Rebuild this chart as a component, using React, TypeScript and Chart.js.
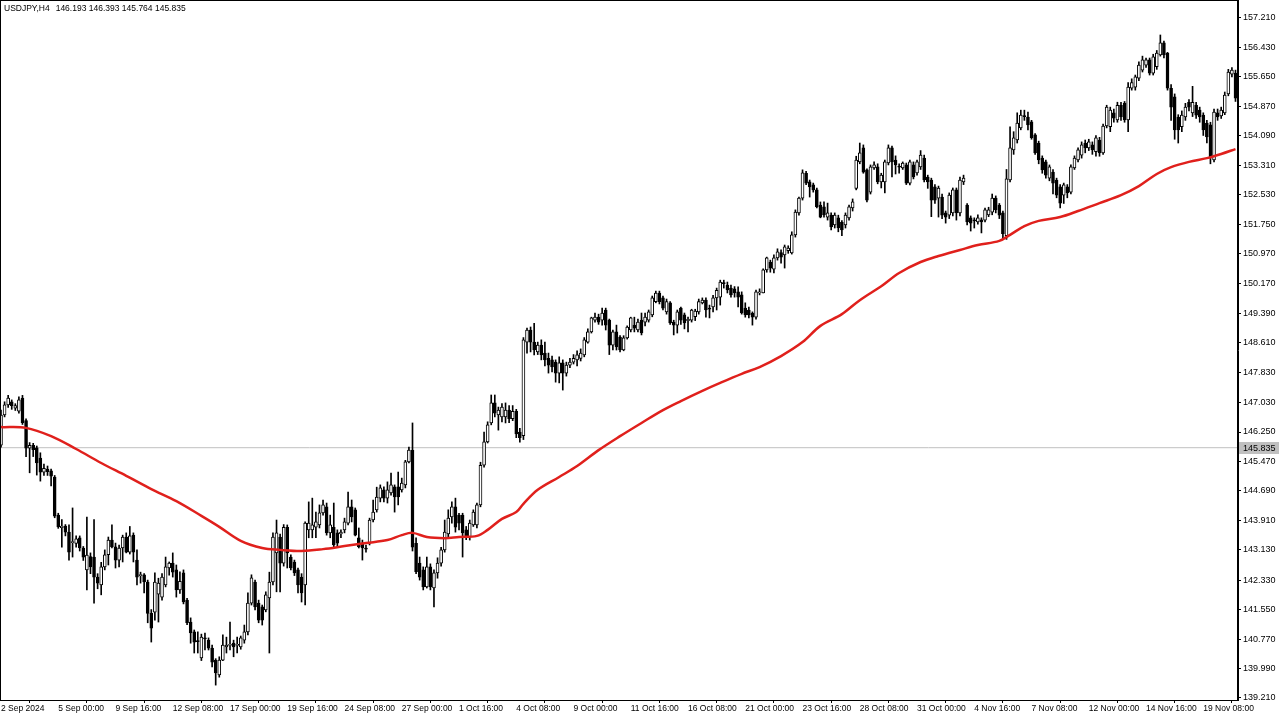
import { useEffect, useRef } from "react";
import { Chart, registerables } from "chart.js";

Chart.register(...registerables);

const symbolTitle = "USDJPY,H4";
const lastQuote = ["146.193", "146.393", "145.764", "145.835"];
const currentPrice = 145.835;

// [open, high, low, close] per H4 bar, starting 2 Sep 2024 08:00
const candles: [number, number, number, number][] = [
  [145.90,146.83,145.85,146.70],[146.70,147.05,146.65,146.97],[146.97,147.22,146.90,147.15],[147.05,147.10,146.85,146.95],
  [146.88,147.00,146.82,146.95],[146.80,147.18,146.75,147.10],[147.15,147.22,146.45,146.50],[146.55,146.60,145.60,145.82],
  [145.82,145.97,145.17,145.90],[145.90,145.95,145.60,145.78],[145.83,145.88,145.11,145.43],[145.56,145.70,144.95,145.19],
  [145.19,145.40,145.10,145.29],[145.27,145.35,145.10,145.20],[145.22,145.27,144.82,145.08],[145.06,145.10,143.98,144.02],
  [144.05,144.10,143.70,143.74],[143.72,143.93,143.20,143.76],[143.76,143.80,143.50,143.60],[143.60,143.79,142.86,143.07],
  [143.32,144.24,142.94,143.35],[143.30,143.50,143.20,143.42],[143.45,143.50,143.10,143.18],[143.18,143.22,142.85,142.94],
  [142.60,144.00,142.07,142.99],[142.95,143.05,142.50,142.68],[142.94,143.93,141.72,142.41],[142.41,142.50,142.10,142.25],
  [142.20,142.80,141.94,142.68],[142.68,143.13,142.60,143.00],[143.00,143.47,142.73,143.39],[143.39,143.79,143.18,143.21],
  [143.21,143.31,142.65,142.86],[142.86,143.26,142.68,143.18],[143.18,143.52,142.81,143.47],[143.47,143.58,143.05,143.07],
  [143.07,143.75,143.02,143.50],[143.52,143.58,142.81,143.07],[142.86,143.13,142.20,142.41],[142.45,142.54,142.25,142.47],
  [142.47,142.50,141.99,142.28],[142.28,142.33,141.20,141.45],[141.45,141.55,140.69,141.06],[141.48,142.52,141.27,142.28],
  [141.96,142.38,141.22,142.25],[141.88,142.50,141.80,142.41],[142.20,142.94,142.15,142.68],[142.65,142.81,142.46,142.78],
  [142.78,143.05,142.41,142.54],[142.60,142.73,141.88,142.07],[142.07,142.55,141.98,142.30],[142.52,142.60,141.70,141.75],
  [141.80,141.85,141.15,141.20],[141.22,141.33,140.66,140.93],[140.96,141.01,140.40,140.69],[140.72,140.96,140.40,140.70],
  [140.27,140.90,140.20,140.82],[140.80,140.93,140.48,140.77],[140.74,140.80,140.48,140.53],[140.53,140.61,140.03,140.16],
  [140.21,140.25,139.55,139.87],[139.82,140.30,139.76,140.21],[140.21,140.88,140.20,140.61],[140.56,140.82,140.40,140.61],
  [140.60,141.22,140.48,140.62],[140.66,140.74,140.30,140.56],[140.60,140.82,140.40,140.62],[140.56,140.85,140.50,140.80],
  [140.74,141.14,140.66,140.96],[140.96,141.99,140.88,141.72],[141.72,142.47,141.67,142.39],[142.28,142.33,141.54,141.62],
  [141.72,141.80,141.20,141.27],[141.62,141.67,141.14,141.27],[141.54,142.02,141.49,141.94],[141.86,142.54,140.40,142.28],
  [142.28,143.58,142.20,143.47],[143.05,143.92,142.02,143.58],[143.47,143.55,142.02,142.78],[142.78,143.80,142.70,143.73],
  [143.73,143.79,142.65,143.05],[142.94,143.00,142.60,142.65],[142.81,142.86,142.45,142.52],[142.60,142.65,141.99,142.20],
  [142.41,142.50,141.75,141.99],[142.20,143.87,141.67,143.84],[143.66,144.40,143.45,143.84],[143.66,144.50,143.45,143.79],
  [143.73,144.13,143.45,143.87],[143.79,144.32,143.71,144.11],[144.11,144.45,144.05,144.32],[144.27,144.37,143.52,143.58],
  [143.58,144.05,143.45,143.79],[143.73,144.37,143.21,143.26],[143.58,143.66,143.21,143.31],[143.55,143.66,143.45,143.60],
  [143.66,143.97,143.58,143.87],[143.84,144.66,143.79,144.27],[144.27,144.45,143.87,144.00],[144.19,144.24,143.50,143.52],
  [143.45,143.71,143.18,143.21],[143.31,143.39,142.86,143.18],[143.18,143.26,143.07,143.15],[143.31,143.97,143.26,143.92],
  [143.92,144.45,143.87,144.13],[144.19,144.79,144.13,144.53],[144.50,144.85,144.40,144.77],[144.72,144.80,144.40,144.50],
  [144.50,144.93,144.37,144.72],[144.64,145.16,144.58,144.85],[144.80,144.85,144.13,144.53],[144.80,145.19,144.32,144.53],
  [144.72,145.03,144.66,144.90],[144.85,145.50,144.77,145.46],[145.46,145.85,145.43,145.77],[145.77,146.49,143.10,143.20],
  [143.30,143.45,142.50,142.55],[142.78,142.94,142.33,142.41],[142.60,142.68,142.07,142.15],[142.15,142.94,142.12,142.68],
  [142.68,142.76,142.07,142.15],[142.12,142.60,141.62,142.52],[142.52,142.92,142.38,142.78],[142.78,143.20,142.70,143.13],
  [143.13,143.92,143.07,143.60],[143.55,144.19,143.47,143.97],[144.00,144.40,143.84,144.27],[144.27,144.50,143.60,143.73],
  [144.05,144.10,143.66,143.84],[144.05,144.10,142.94,143.58],[143.66,143.75,143.40,143.47],[143.47,143.92,143.39,143.84],
  [143.79,144.19,143.75,144.13],[143.79,144.37,143.71,144.32],[144.32,145.45,144.27,145.37],[145.37,146.25,145.32,145.99],
  [145.99,146.52,145.96,146.44],[146.49,147.23,146.44,147.02],[147.02,147.23,146.65,146.75],[146.70,146.91,146.30,146.83],
  [146.65,147.00,146.52,146.91],[146.65,147.02,146.49,146.83],[146.83,146.95,146.50,146.60],[146.60,146.95,146.55,146.80],
  [146.80,146.85,146.10,146.20],[146.25,146.35,145.98,146.10],[146.15,148.75,146.05,148.69],[148.63,149.00,148.34,148.95],
  [148.95,149.03,148.37,148.63],[148.63,149.13,148.29,148.42],[148.37,148.63,148.30,148.55],[148.55,148.69,148.16,148.29],
  [148.34,148.63,148.00,148.16],[148.20,148.34,147.81,148.02],[148.16,148.26,147.84,147.97],[148.10,148.16,147.57,147.81],
  [147.81,148.24,147.55,148.08],[148.08,148.16,147.36,147.81],[147.81,148.10,147.73,148.02],[148.02,148.20,147.95,148.10],
  [148.10,148.30,148.05,148.20],[148.16,148.40,148.00,148.29],[148.20,148.45,148.13,148.34],[148.29,148.75,148.24,148.69],
  [148.63,148.98,148.60,148.90],[148.90,149.29,148.87,149.27],[149.21,149.40,149.16,149.29],[149.29,149.37,149.10,149.16],
  [149.21,149.53,149.08,149.40],[149.48,149.53,148.95,149.08],[149.21,149.24,148.30,148.55],[148.55,148.95,148.42,148.90],
  [148.90,149.08,148.42,148.50],[148.76,148.80,148.37,148.42],[148.42,148.80,148.40,148.74],[148.74,149.06,148.71,149.03],
  [148.95,149.29,148.90,149.27],[149.08,149.29,148.90,149.00],[148.95,149.24,148.90,149.16],[149.21,149.40,148.82,148.87],
  [149.16,149.40,149.06,149.29],[149.21,149.48,149.16,149.43],[149.35,149.85,149.30,149.80],[149.70,149.98,149.67,149.93],
  [149.93,149.98,149.64,149.70],[149.80,149.85,149.48,149.53],[149.43,149.77,149.37,149.70],[149.67,149.70,149.10,149.14],
  [149.16,149.21,148.82,149.08],[149.08,149.48,148.87,149.43],[149.53,149.56,149.10,149.21],[149.35,149.40,148.98,149.14],
  [149.20,149.29,148.90,149.23],[149.21,149.50,149.16,149.48],[149.30,149.50,149.20,149.45],[149.43,149.77,149.37,149.70],
  [149.67,149.80,149.64,149.74],[149.74,149.80,149.29,149.48],[149.53,149.61,149.27,149.50],[149.56,149.87,149.43,149.80],
  [149.80,150.06,149.48,150.00],[149.82,150.27,149.61,150.22],[150.20,150.27,150.06,150.18],[150.14,150.22,149.93,150.01],
  [150.06,150.14,149.82,149.88],[150.04,150.10,149.82,149.93],[149.96,150.09,149.56,149.82],[149.88,149.96,149.37,149.40],
  [149.53,149.67,149.29,149.35],[149.48,149.56,149.27,149.35],[149.40,149.43,149.08,149.29],[149.29,150.01,149.24,149.96],
  [149.93,150.04,149.88,149.96],[149.93,150.57,149.93,150.54],[150.54,150.88,150.48,150.86],[150.75,150.80,150.48,150.59],
  [150.56,150.94,150.46,150.86],[150.86,151.10,150.80,151.02],[151.00,151.07,150.72,150.88],[150.94,151.20,150.59,151.15],
  [151.05,151.18,150.98,151.12],[150.99,151.55,150.96,151.47],[151.47,152.13,151.41,152.07],[152.05,152.47,151.99,152.44],
  [152.44,153.19,152.39,153.11],[153.10,153.15,152.80,152.84],[152.87,152.92,152.47,152.74],[152.79,152.84,152.60,152.66],
  [152.66,152.71,152.18,152.21],[152.26,152.34,151.92,151.94],[152.21,152.34,151.94,152.00],[151.94,152.31,151.86,152.05],
  [151.99,152.05,151.60,151.68],[151.73,152.05,151.65,151.99],[151.92,151.99,151.55,151.65],[151.80,151.85,151.45,151.60],
  [151.73,152.05,151.65,151.99],[151.92,152.26,151.86,152.21],[152.18,152.42,152.10,152.34],[152.70,153.55,152.66,153.45],
  [153.40,153.90,153.35,153.64],[153.77,153.85,153.10,153.13],[153.19,153.22,152.34,152.39],[152.60,153.32,152.55,153.27],
  [153.24,153.40,153.20,153.32],[153.27,153.35,152.82,152.87],[152.87,153.10,152.71,153.05],[152.87,153.45,152.58,153.40],
  [153.37,153.85,153.32,153.77],[153.77,153.82,153.00,153.40],[153.45,153.56,153.08,153.32],[153.28,153.35,153.10,153.26],
  [153.24,153.40,153.20,153.37],[153.32,153.37,152.80,152.84],[152.84,153.45,152.79,153.40],[153.32,153.40,152.95,153.00],
  [153.11,153.45,153.05,153.40],[153.27,153.70,153.20,153.58],[153.50,153.58,152.87,152.92],[153.00,153.05,152.70,152.87],
  [152.92,152.97,151.95,152.39],[152.74,152.80,152.30,152.39],[152.44,152.76,151.94,152.71],[152.47,152.55,151.90,151.99],
  [152.05,152.10,151.78,151.94],[151.99,152.58,151.90,152.52],[152.05,152.71,151.97,152.66],[152.66,152.71,151.86,152.05],
  [152.05,153.00,151.97,152.92],[152.87,153.05,152.80,152.97],[152.26,152.30,151.73,151.81],[151.92,151.97,151.57,151.78],
  [151.86,151.92,151.65,151.84],[151.81,152.00,151.75,151.92],[151.87,151.92,151.52,151.81],[151.86,152.18,151.81,152.13],
  [152.00,152.20,151.95,152.13],[152.07,152.55,152.00,152.44],[152.44,152.50,152.05,152.13],[152.26,152.30,151.90,151.99],
  [152.05,152.10,151.36,151.50],[151.45,153.20,151.35,152.95],[152.92,154.33,152.87,153.77],[153.72,154.20,153.60,154.04],
  [153.98,154.70,153.90,154.43],[154.30,154.77,154.25,154.64],[154.62,154.77,154.50,154.60],[154.59,154.72,154.25,154.38],
  [154.46,154.50,154.00,154.04],[154.12,154.15,153.60,153.64],[153.90,153.95,153.35,153.45],[153.50,153.56,153.10,153.19],
  [153.40,153.45,152.97,153.05],[152.97,153.32,152.90,153.27],[153.13,153.20,152.55,152.84],[152.92,152.97,152.45,152.52],
  [152.74,152.80,152.18,152.31],[152.52,152.84,152.30,152.79],[152.74,152.80,152.45,152.58],[152.60,153.32,152.55,153.27],
  [153.24,153.56,153.20,153.50],[153.45,153.77,153.40,153.72],[153.58,153.93,153.50,153.85],[153.90,153.98,153.64,153.77],
  [153.77,154.00,153.70,153.93],[153.85,153.93,153.60,153.72],[153.67,154.10,153.55,154.04],[153.98,154.05,153.55,153.64],
  [153.64,154.40,153.60,154.35],[154.35,154.90,154.30,154.85],[154.33,154.85,154.20,154.77],[154.70,154.80,154.45,154.56],
  [154.51,154.98,154.45,154.90],[154.90,154.98,154.50,154.59],[154.96,155.00,154.45,154.51],[154.51,155.50,154.20,155.38],
  [155.35,155.60,155.30,155.50],[155.38,155.70,155.30,155.65],[155.62,156.05,155.55,155.96],[155.83,156.20,155.78,156.10],
  [155.96,156.15,155.90,156.10],[156.10,156.15,155.70,155.75],[155.75,156.25,155.70,156.18],[155.92,156.35,155.85,156.28],
  [156.23,156.76,156.20,156.55],[156.55,156.60,156.15,156.23],[156.28,156.30,155.30,155.35],[155.35,155.45,154.50,154.85],
  [155.12,155.20,154.00,154.25],[154.59,154.65,153.90,154.25],[154.33,154.75,154.20,154.64],[154.59,154.95,154.50,154.85],
  [154.98,155.05,154.75,154.85],[154.70,155.40,154.60,154.98],[154.90,154.98,154.55,154.64],[154.77,154.85,154.45,154.59],
  [154.64,154.70,154.10,154.25],[154.43,154.50,153.90,154.06],[154.38,154.45,153.35,153.53],[153.45,154.80,153.40,154.72],
  [154.70,154.80,154.50,154.59],[154.62,154.85,154.55,154.77],[154.70,155.25,154.65,155.17],[155.20,155.85,155.15,155.78],
  [155.72,155.90,155.65,155.83],[155.75,155.83,155.00,155.09],
];

// moving average (red line), read at selected bars
const maBars = [0,7,14,21,28,35,42,49,56,61,67,73,78,84,90,96,102,108,112,115,119,124,128,133,136,140,144,146,150,156,161,167,173,179,185,190,196,201,207,212,218,224,229,235,240,246,251,257,262,268,273,279,282,286,290,296,301,307,313,318,323,327,332,337,341,345];
const maValues = [146.38,146.36,146.14,145.80,145.43,145.09,144.74,144.42,144.03,143.74,143.37,143.18,143.13,143.10,143.15,143.23,143.31,143.39,143.52,143.58,143.47,143.44,143.47,143.50,143.66,143.95,144.13,144.35,144.72,145.06,145.35,145.77,146.14,146.49,146.83,147.07,147.34,147.55,147.79,147.97,148.26,148.63,149.06,149.37,149.74,150.11,150.46,150.75,150.91,151.07,151.20,151.31,151.47,151.70,151.84,151.94,152.10,152.31,152.52,152.76,153.08,153.26,153.40,153.50,153.61,153.74];

const xTickBars = [0,16,32,48,64,80,96,112,128,144,160,176,192,208,224,240,256,272,288,304,320,336];
const xTickLabels = ["2 Sep 2024","5 Sep 00:00","9 Sep 16:00","12 Sep 08:00","17 Sep 00:00","19 Sep 16:00","24 Sep 08:00","27 Sep 00:00","1 Oct 16:00","4 Oct 08:00","9 Oct 00:00","11 Oct 16:00","16 Oct 08:00","21 Oct 00:00","23 Oct 16:00","28 Oct 08:00","31 Oct 00:00","4 Nov 16:00","7 Nov 08:00","12 Nov 00:00","14 Nov 16:00","19 Nov 08:00"];
const yTickLabels = ["157.210","156.430","155.650","154.870","154.090","153.310","152.530","151.750","150.970","150.170","149.390","148.610","147.830","147.030","146.250","145.470","144.690","143.910","143.130","142.330","141.550","140.770","139.990","139.210"];

const X_MIN = -0.28;
const X_MAX = 345.7;
const Y_MIN = 139.156;
const Y_MAX = 157.686;
const FONT = "'Liberation Sans', Arial, sans-serif";

export default function App() {
  const ref = useRef<HTMLCanvasElement | null>(null);

  useEffect(() => {
    const canvas = ref.current;
    if (!canvas) return;

    const wickData = candles.map((c, i) => ({ x: i, y: [c[2], c[1]] }));
    const bodyData = candles.map((c, i) => ({ x: i, y: [Math.min(c[0], c[3]), Math.max(c[0], c[3])] }));
    const bodyColors = candles.map((c) => (c[3] >= c[0] ? "#ffffff" : "#000000"));
    const maData = maBars.map((b, i) => ({ x: b, y: maValues[i] }));
    const priceLine = [
      { x: X_MIN, y: currentPrice },
      { x: X_MAX, y: currentPrice },
    ];

    const overlay = {
      id: "mt4overlay",
      afterDraw(chart: any) {
        const { ctx, chartArea } = chart;
        const ys = chart.scales.y;
        ctx.save();
        // frame
        ctx.strokeStyle = "#000";
        ctx.lineWidth = 1;
        ctx.strokeRect(chartArea.left + 0.5, chartArea.top + 0.5, chartArea.right - chartArea.left - 1, chartArea.bottom - chartArea.top);
        // header
        ctx.fillStyle = "#000";
        ctx.font = `8.5px ${FONT}`;
        ctx.textBaseline = "middle";
        ctx.textAlign = "left";
        ctx.fillText(symbolTitle, 4, 9);
        const w = ctx.measureText(symbolTitle).width;
        ctx.fillText(lastQuote.join(" "), 4 + w + 6, 9);
        // current price label
        const py = Math.round(ys.getPixelForValue(currentPrice));
        ctx.fillStyle = "#c0c0c0";
        ctx.fillRect(chartArea.right + 1, py - 6, 40, 12);
        ctx.fillStyle = "#000";
        ctx.font = `9px ${FONT}`;
        ctx.fillText(currentPrice.toFixed(3), chartArea.right + 5, py + 0.5);
        ctx.restore();
      },
    };

    const chart = new Chart(canvas, {
      type: "bar",
      data: {
        datasets: [
          {
            type: "line",
            data: maData as any,
            borderColor: "#e0201c",
            borderWidth: 2.5,
            pointRadius: 0,
            tension: 0.35,
            order: 1,
          } as any,
          {
            type: "bar",
            data: bodyData as any,
            backgroundColor: bodyColors,
            borderColor: "#000000",
            borderWidth: 1,
            borderSkipped: false,
            barThickness: 3,
            minBarLength: 1,
            grouped: false,
            order: 2,
          } as any,
          {
            type: "bar",
            data: wickData as any,
            backgroundColor: "#000000",
            borderWidth: 0,
            barThickness: 1,
            minBarLength: 1,
            grouped: false,
            order: 3,
          } as any,
          {
            type: "line",
            data: priceLine as any,
            borderColor: "#c0c0c0",
            borderWidth: 1,
            pointRadius: 0,
            order: 4,
          } as any,
        ],
      },
      options: {
        responsive: false,
        devicePixelRatio: 1,
        animation: false,
        layout: { padding: 0 },
        plugins: { legend: { display: false }, tooltip: { enabled: false } },
        scales: {
          x: {
            type: "linear",
            min: X_MIN,
            max: X_MAX,
            offset: false,
            afterBuildTicks: (s: any) => {
              s.ticks = xTickBars.map((v) => ({ value: v }));
            },
            afterFit: (s: any) => {
              s.height = 20;
              s.paddingLeft = 0;
              s.paddingRight = 0;
            },
            ticks: {
              autoSkip: false,
              maxRotation: 0,
              align: "start",
              padding: 1,
              color: "#000",
              font: { family: FONT, size: 8.5 },
              callback: (_v: any, i: number) => xTickLabels[i],
            },
            grid: { drawOnChartArea: false, drawTicks: true, tickLength: 3, color: "#000" },
            border: { display: true, color: "#000" },
          },
          y: {
            type: "linear",
            position: "right",
            min: Y_MIN,
            max: Y_MAX,
            afterBuildTicks: (s: any) => {
              s.ticks = yTickLabels.map((l) => ({ value: parseFloat(l) }));
            },
            afterFit: (s: any) => {
              s.width = 42;
              s.paddingTop = 0;
              s.paddingBottom = 0;
            },
            ticks: {
              autoSkip: false,
              padding: 2,
              color: "#000",
              font: { family: FONT, size: 9 },
              callback: (_v: any, i: number) => yTickLabels[i],
            },
            grid: { drawOnChartArea: false, drawTicks: true, tickLength: 3, color: "#000" },
            border: { display: true, color: "#000" },
          },
        },
      } as any,
      plugins: [overlay],
    });

    return () => chart.destroy();
  }, []);

  return (
    <div style={{ position: "fixed", left: 0, top: 0, width: 1280, height: 720, background: "#fff" }}>
      <canvas ref={ref} width={1280} height={720} style={{ display: "block" }} />
    </div>
  );
}
